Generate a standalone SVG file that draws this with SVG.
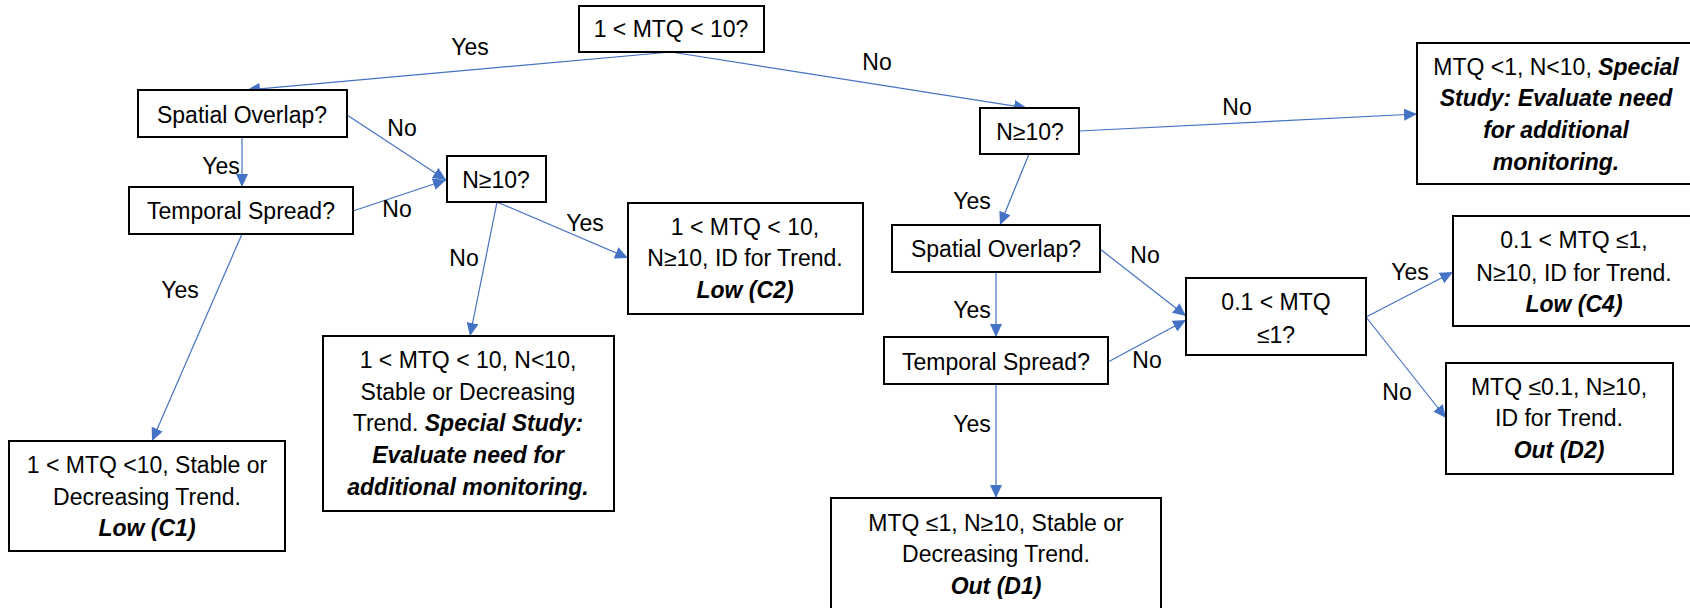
<svg xmlns="http://www.w3.org/2000/svg" width="1690" height="608" viewBox="0 0 1690 608">
<style>
.box{fill:#fff;stroke:#000;stroke-width:2}
text{font-family:"Liberation Sans",Arial,sans-serif;font-size:23px;fill:#000;text-anchor:middle}
.bi{font-weight:bold;font-style:italic}
.c{stroke:#4472C4;stroke-width:1.2;fill:none;marker-end:url(#ah)}
</style>
<defs>
<marker id="ah" markerUnits="userSpaceOnUse" markerWidth="14" markerHeight="12" refX="13" refY="6" orient="auto">
<path d="M0,0 L13,6 L0,12 Z" fill="#4472C4"/>
</marker>
</defs>
<rect width="1690" height="608" fill="#fff"/>
<g id="connectors">
<line class="c" x1="671" y1="52" x2="247" y2="90"/>
<line class="c" x1="671" y1="52" x2="1027" y2="108"/>
<line class="c" x1="1079" y1="131" x2="1417" y2="114"/>
<line class="c" x1="1029" y1="154" x2="1000" y2="225"/>
<line class="c" x1="242" y1="137" x2="242" y2="187"/>
<line class="c" x1="347" y1="115" x2="446" y2="180"/>
<line class="c" x1="353" y1="211" x2="446" y2="180"/>
<line class="c" x1="242" y1="234" x2="152" y2="441"/>
<line class="c" x1="497" y1="202" x2="628" y2="258"/>
<line class="c" x1="497" y1="202" x2="470" y2="336"/>
<line class="c" x1="996" y1="272" x2="996" y2="337"/>
<line class="c" x1="1100" y1="249" x2="1186" y2="316"/>
<line class="c" x1="1108" y1="362" x2="1186" y2="320"/>
<line class="c" x1="996" y1="384" x2="996" y2="498"/>
<line class="c" x1="1366" y1="317" x2="1453" y2="272"/>
<line class="c" x1="1366" y1="317" x2="1446" y2="418"/>
<text x="470" y="55">Yes</text>
<text x="877" y="70">No</text>
<text x="1237" y="115">No</text>
<text x="972" y="209">Yes</text>
<text x="221" y="174">Yes</text>
<text x="402" y="136">No</text>
<text x="397" y="217">No</text>
<text x="180" y="298">Yes</text>
<text x="585" y="231">Yes</text>
<text x="464" y="266">No</text>
<text x="972" y="318">Yes</text>
<text x="1145" y="263">No</text>
<text x="1147" y="368">No</text>
<text x="972" y="432">Yes</text>
<text x="1410" y="280">Yes</text>
<text x="1397" y="400">No</text>
</g>
<g id="top">
<rect class="box" x="579" y="6" width="185" height="46"/>
<text x="671" y="37">1 &lt; MTQ &lt; 10?</text>
</g>
<g id="spatialL">
<rect class="box" x="138" y="90" width="209" height="47"/>
<text x="242" y="123">Spatial Overlap?</text>
</g>
<g id="temporalL">
<rect class="box" x="129" y="187" width="224" height="47"/>
<text x="241" y="219">Temporal Spread?</text>
</g>
<g id="nL">
<rect class="box" x="447" y="156" width="99" height="46"/>
<text x="496" y="188">N≥10?</text>
</g>
<g id="c2">
<rect class="box" x="628" y="203" width="235" height="111"/>
<text x="745" y="235">1 &lt; MTQ &lt; 10,</text>
<text x="745" y="266">N≥10, ID for Trend.</text>
<text x="745" y="298" class="bi">Low (C2)</text>
</g>
<g id="c1">
<rect class="box" x="9" y="441" width="276" height="110"/>
<text x="147" y="473">1 &lt; MTQ &lt;10, Stable or</text>
<text x="147" y="505">Decreasing Trend.</text>
<text x="147" y="536" class="bi">Low (C1)</text>
</g>
<g id="specialL">
<rect class="box" x="323" y="336" width="291" height="175"/>
<text x="468" y="368">1 &lt; MTQ &lt; 10, N&lt;10,</text>
<text x="468" y="400">Stable or Decreasing</text>
<text x="468" y="431">Trend. <tspan class="bi">Special Study:</tspan></text>
<text x="468" y="463" class="bi">Evaluate need for</text>
<text x="468" y="495" class="bi">additional  monitoring.</text>
</g>
<g id="nR">
<rect class="box" x="980" y="108" width="99" height="46"/>
<text x="1030" y="140">N≥10?</text>
</g>
<g id="specialR">
<rect class="box" x="1417" y="43" width="280" height="141"/>
<text x="1556" y="75">MTQ &lt;1, N&lt;10, <tspan class="bi">Special</tspan></text>
<text x="1556" y="106" class="bi">Study: Evaluate need</text>
<text x="1556" y="138" class="bi">for additional</text>
<text x="1556" y="170" class="bi">monitoring.</text>
</g>
<g id="spatialR">
<rect class="box" x="892" y="225" width="208" height="47"/>
<text x="996" y="257">Spatial Overlap?</text>
</g>
<g id="temporalR">
<rect class="box" x="884" y="337" width="224" height="47"/>
<text x="996" y="370">Temporal Spread?</text>
</g>
<g id="q01">
<rect class="box" x="1186" y="278" width="180" height="77"/>
<text x="1276" y="310">0.1 &lt; MTQ</text>
<text x="1276" y="343">≤1?</text>
</g>
<g id="c4">
<rect class="box" x="1453" y="216" width="244" height="110"/>
<text x="1574" y="248">0.1 &lt; MTQ ≤1,</text>
<text x="1574" y="281">N≥10, ID for Trend.</text>
<text x="1574" y="312" class="bi">Low (C4)</text>
</g>
<g id="d2">
<rect class="box" x="1446" y="363" width="227" height="111"/>
<text x="1559" y="395">MTQ ≤0.1, N≥10,</text>
<text x="1559" y="426">ID for Trend.</text>
<text x="1559" y="458" class="bi">Out (D2)</text>
</g>
<g id="d1">
<rect class="box" x="831" y="498" width="330" height="115"/>
<text x="996" y="531">MTQ ≤1, N≥10, Stable or</text>
<text x="996" y="562">Decreasing Trend.</text>
<text x="996" y="594" class="bi">Out (D1)</text>
</g>
</svg>
